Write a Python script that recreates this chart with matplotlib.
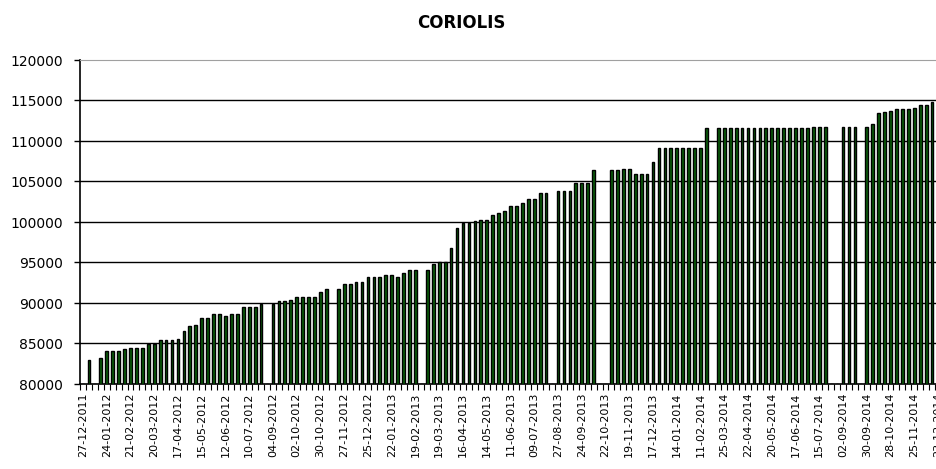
import numpy as np
import matplotlib
matplotlib.use('Agg')
import matplotlib.pyplot as plt

# weekly values (nan = no data that week)
nan = np.nan
values = ([nan, 83000, nan, 83200, 84100, 84100, 84100, 84300, 84500, 84500,
           84500, 85000, 85000, 85400, 85400, 85400, 85600, 86600, 87200, 87300,
           88100, 88100, 88600, 88600, 88400, 88600, 88600, 89500, 89500, 89500,
           89900, nan, 89900, 90200, 90200, 90400, 90700, 90700, 90700, 90700,
           91300, 91700, nan, 91700, 92400, 92400, 92600, 92600, 93200, 93200,
           93200, 93400, 93400, 93200, 93700, 94100, 94100, nan, 94100, 94800,
           95100, 95100, 96800, 99200, 99900, 99900, 100100, 100300, 100300, 100900,
           101100, 101300, 102000, 102000, 102300, 102800, 102800, 103600, 103600, nan,
           103800, 103800, 103800, 104800, 104800, 104800, 106400, nan, nan, 106400,
           106400, 106600, 106600, 105900, 105900, 105900, 107400]
          + [109100] * 8
          + [111600, nan] + [111600] * 16
          + [111700, 111700, 111700, nan, nan, 111700, 111700, 111700, nan, 111700,
             112100, 113400, 113600, 113700, 113900, 113900, 113900, 114100, 114500, 114500,
             114800, 115900])

tick_labels = ['27-12-2011', '24-01-2012', '21-02-2012', '20-03-2012', '17-04-2012',
               '15-05-2012', '12-06-2012', '10-07-2012', '04-09-2012', '02-10-2012',
               '30-10-2012', '27-11-2012', '25-12-2012', '22-01-2013', '19-02-2013',
               '19-03-2013', '16-04-2013', '14-05-2013', '11-06-2013', '09-07-2013',
               '27-08-2013', '24-09-2013', '22-10-2013', '19-11-2013', '17-12-2013',
               '14-01-2014', '11-02-2014', '25-03-2014', '22-04-2014', '20-05-2014',
               '17-06-2014', '15-07-2014', '02-09-2014', '30-09-2014', '28-10-2014',
               '25-11-2014', '23-12-2014']

values = np.array(values, dtype=float)
n = len(values)
x = np.arange(n)

fig = plt.figure(figsize=(9.37, 4.69), dpi=100)
ax = fig.add_axes([80 / 937, 85 / 469, 861 / 937, 324 / 469])

ax.bar(x, np.nan_to_num(values - 80000), bottom=80000, width=0.46,
       color='#0a5e0a', edgecolor='black', linewidth=1.0, zorder=3)

ax.set_xlim(-0.5, n - 0.5)
ax.set_ylim(80000, 120000)
ax.set_yticks(np.arange(80000, 120001, 5000))
ax.tick_params(axis='y', direction='out', length=4, width=1, labelsize=10, pad=8)
for yv in range(85000, 120000, 5000):
    ax.axhline(yv, color='black', linewidth=1, zorder=1)

# labels every 4 weeks, ticks between every category
ax.set_xticks(x[::4][:len(tick_labels)])
ax.set_xticklabels(tick_labels, rotation=90, fontsize=8)
ax.tick_params(axis='x', which='major', length=0, pad=6)
ax.set_xticks(np.arange(n + 1) - 0.5, minor=True)
ax.tick_params(axis='x', which='minor', direction='out', length=4, width=0.8)

ax.spines['right'].set_visible(False)
ax.spines['top'].set_color('#a0a0a0')
ax.spines['left'].set_linewidth(1.2)
ax.spines['bottom'].set_linewidth(1.2)

fig.text(461 / 937, 1 - 23 / 469, 'CORIOLIS', ha='center', va='center',
         fontsize=12, fontweight='bold')

fig.savefig('out.png', dpi=100)
